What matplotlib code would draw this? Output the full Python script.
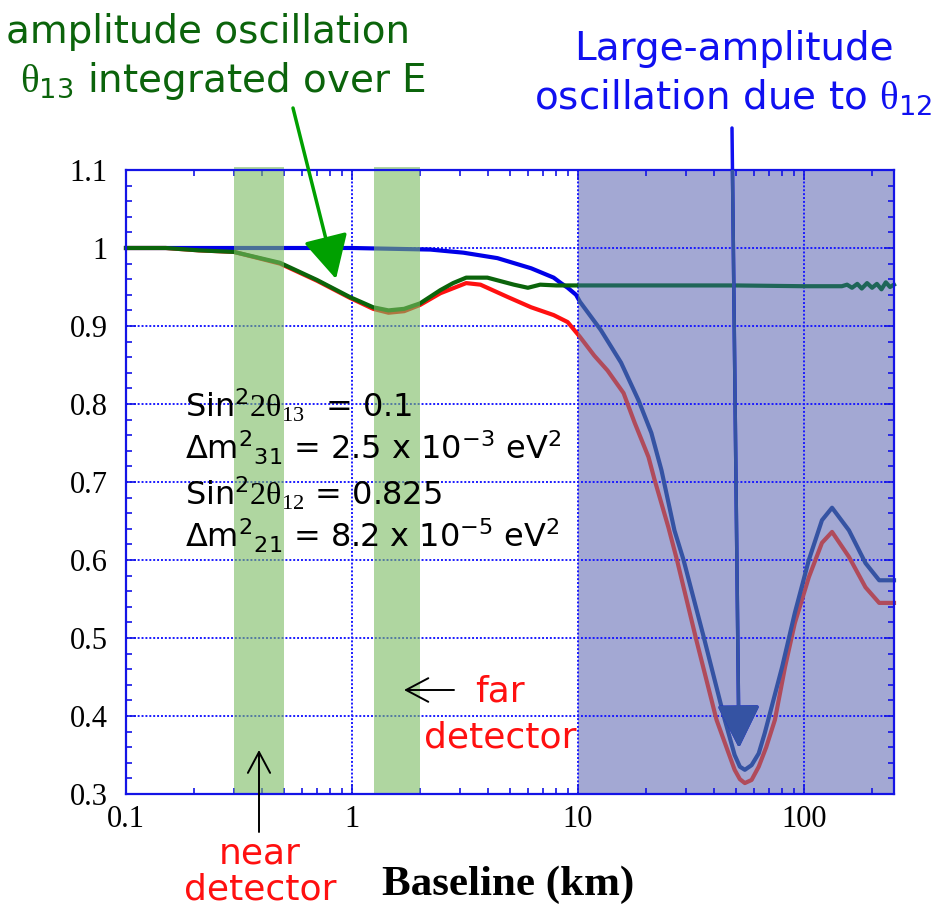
#!/usr/bin/env python3
"""Reactor neutrino survival probability vs baseline, with near/far detector bands."""
import matplotlib

matplotlib.use("Agg")  # headless
import matplotlib.pyplot as plt  # noqa: E402
from matplotlib.patches import FancyArrowPatch, Rectangle  # noqa: E402
from matplotlib.ticker import (FixedLocator, FuncFormatter, LogLocator,  # noqa: E402
                               NullFormatter)

W, H = 947, 909

# theta12 + theta13 oscillation (blue)
blue_x = [0.1, 1.0, 1.5, 2.22, 3.11, 4.4, 6.2, 7.8, 8.4, 9.0, 9.8, 10.2, 12.6, 15.5,
          18.5, 21.1, 23.4, 26.7, 29.3, 36.3, 44.6, 49.3, 52, 54.7, 58.6, 63, 67, 80, 91,
          105, 120, 133, 158, 187, 215, 250]
blue_y = [1.0, 1.0, 0.999, 0.998, 0.994, 0.987, 0.974, 0.962, 0.955, 0.949, 0.940, 0.931,
          0.895, 0.853, 0.805, 0.763, 0.715, 0.638, 0.600, 0.497, 0.395, 0.350, 0.335,
          0.331, 0.337, 0.352, 0.378, 0.463, 0.532, 0.600, 0.651, 0.667, 0.638, 0.596,
          0.574, 0.574]

# full oscillation (red)
red_x = [0.1, 0.15, 0.21, 0.3, 0.48, 0.7, 0.98, 1.24, 1.45, 1.7, 2.0, 2.46, 3.2, 3.7,
         4.9, 6.2, 7.8, 9.0, 10.2, 11.8, 13.5, 15.9, 17.8, 20.5, 21.8, 25.1, 27.4, 33.4,
         41, 46, 49.3, 52, 54.7, 58.6, 63, 68, 74.3, 82.4, 91, 105, 120, 133, 158, 187,
         215, 250]
red_y = [1.0, 1.0, 0.997, 0.995, 0.980, 0.958, 0.936, 0.922, 0.917, 0.919, 0.927, 0.942,
         0.955, 0.953, 0.937, 0.924, 0.914, 0.905, 0.886, 0.862, 0.843, 0.814, 0.776,
         0.732, 0.703, 0.642, 0.600, 0.497, 0.395, 0.355, 0.331, 0.319, 0.314, 0.318,
         0.335, 0.360, 0.395, 0.463, 0.519, 0.578, 0.622, 0.636, 0.604, 0.565, 0.545,
         0.545]

# theta13 only, integrated over E (green)
green_x = [0.1, 0.15, 0.21, 0.3, 0.48, 0.7, 0.98, 1.24, 1.45, 1.7, 2.0, 2.46, 2.8, 3.2,
           3.97, 5.2, 6.0, 6.8, 8.0, 10, 20, 50, 100, 147, 155, 163, 172, 180, 190, 200,
           210, 220, 230, 240, 250]
green_y = [1.0, 1.0, 0.997, 0.995, 0.981, 0.959, 0.937, 0.924, 0.920, 0.922, 0.929, 0.946,
           0.955, 0.962, 0.962, 0.953, 0.949, 0.953, 0.952, 0.952, 0.952, 0.952, 0.951,
           0.951, 0.953, 0.949, 0.954, 0.948, 0.955, 0.949, 0.954, 0.947, 0.956, 0.950,
           0.953]

near_band = (0.3, 0.5)
far_band = (1.25, 2.0)
region = (10, 300)

y_ticks = [0.3, 0.4, 0.5, 0.6, 0.7, 0.8, 0.9, 1.0, 1.1]

AX_BLUE = "#1414e6"
MUTED = {"blue": "#3553a3", "red": "#b04b5b", "green": "#1f6658"}
BRIGHT = {"blue": "#0000e8", "red": "#ff1010", "green": "#0b640b"}


def fxy(px, py):
    """pixel position in the 947x909 picture -> figure fraction"""
    return px / W, 1 - py / H


def main() -> int:
    plt.rcParams.update({
        "font.family": ["DejaVu Sans"],
        "mathtext.fontset": "custom",
        "mathtext.rm": "Liberation Serif",
        "mathtext.it": "Liberation Serif:italic",
        "mathtext.default": "regular",
    })
    fig = plt.figure(figsize=(W / 100, H / 100), dpi=100)
    ax = fig.add_axes([126 / W, 1 - 794 / H, (894 - 126) / W, (794 - 170) / H])
    ax.set_xscale("log")
    ax.set_xlim(0.1, 250)
    ax.set_ylim(0.3, 1.1)

    # shaded long-baseline region sits under the curves
    ax.axvspan(*region, color="#a3a8d3", lw=0, zorder=1)

    left_clip = Rectangle((0.01, 0), region[0] - 0.01, 2, transform=ax.transData)
    right_clip = Rectangle((region[0], 0), 1000, 2, transform=ax.transData)
    for key, xs, ys in (("red", red_x, red_y), ("blue", blue_x, blue_y),
                        ("green", green_x, green_y)):
        ln, = ax.plot(xs, ys, color=BRIGHT[key], lw=3.0, zorder=2,
                      solid_joinstyle="round")
        ln.set_clip_path(left_clip)
        ln2, = ax.plot(xs, ys, color=MUTED[key], lw=3.0, zorder=2,
                       solid_joinstyle="round")
        ln2.set_clip_path(right_clip)

    for lo, hi in (near_band, far_band):
        ax.axvspan(lo, hi, ymin=0, ymax=1.005, color="#7bbb61", alpha=0.6, lw=0,
                   zorder=3, clip_on=False)

    ax.set_axisbelow("line")
    ax.grid(True, which="major", color="#1a1aff", ls=(0, (1, 1)), lw=1.4)

    ax.yaxis.set_major_locator(FixedLocator(y_ticks))
    ax.yaxis.set_minor_locator(FixedLocator([0.3 + 0.02 * i for i in range(41)]))
    ax.yaxis.set_major_formatter(FuncFormatter(lambda v, p: f"{v:g}"))
    ax.xaxis.set_major_locator(LogLocator(base=10))
    ax.xaxis.set_minor_locator(LogLocator(base=10, subs=range(2, 10)))
    ax.xaxis.set_major_formatter(FuncFormatter(lambda v, p: f"{v:g}"))
    ax.xaxis.set_minor_formatter(NullFormatter())
    ax.tick_params(which="both", direction="in", top=True, right=True, color=AX_BLUE,
                   width=1.2, labelsize=22, labelfontfamily="Liberation Serif")
    ax.tick_params(which="major", length=7)
    ax.tick_params(which="minor", length=4)
    ax.tick_params(axis="x", pad=8)
    ax.tick_params(axis="y", pad=13)
    for sp in ax.spines.values():
        sp.set_color(AX_BLUE)
        sp.set_linewidth(1.6)
        sp.set_zorder(4)

    # axis title
    fig.text(*fxy(508, 895), "Baseline (km)", ha="center", va="baseline",
             family="Liberation Serif", weight="bold", size=31)

    # parameters
    params = [r"Sin$^2$$\mathrm{2\theta_{13}}$  = 0.1",
              r"Δm$^2$$_{31}$ = 2.5 x 10$^{-3}$ eV$^2$",
              r"Sin$^2$$\mathrm{2\theta_{12}}$ = 0.825",
              r"Δm$^2$$_{21}$ = 8.2 x 10$^{-5}$ eV$^2$"]
    for txt, yb in zip(params, (417, 460, 505, 548)):
        fig.text(*fxy(185, yb), txt, ha="left", va="baseline", size=23, color="black")

    # green note
    green_c = "#0b640b"
    fig.text(*fxy(6, 43), "amplitude oscillation", ha="left", va="baseline", size=28,
             color=green_c)
    fig.text(*fxy(20, 92), r"$\mathrm{\theta}_{13}$ integrated over E", ha="left",
             va="baseline", size=28, color=green_c)
    fig.add_artist(FancyArrowPatch(
        fxy(293, 108), fxy(336, 279), transform=fig.transFigure,
        arrowstyle="-|>,head_length=27,head_width=14", mutation_scale=1,
        shrinkA=0, shrinkB=0, lw=2.5, color="#00a000", zorder=5))

    # blue note
    blue_c = "#1010f0"
    fig.text(*fxy(734, 60), "Large-amplitude", ha="center", va="baseline", size=28,
             color=blue_c)
    fig.text(*fxy(733, 110), r"oscillation due to $\mathrm{\theta}_{12}$", ha="center",
             va="baseline", size=28, color=blue_c)
    for col, clip in ((blue_c, False), (MUTED["blue"], True)):
        arr = FancyArrowPatch(
            fxy(732, 128), fxy(739, 748), transform=fig.transFigure,
            arrowstyle="-|>,head_length=26.6,head_width=13.3", mutation_scale=1,
            shrinkA=0, shrinkB=0, lw=2.5, color=col, zorder=5)
        fig.add_artist(arr)
        if clip:
            arr.set_clip_path(ax.patch)

    # detector labels
    red_c = "#ff1010"
    fig.text(*fxy(500, 702), "far", ha="center", va="baseline", size=26, color=red_c)
    fig.text(*fxy(500, 748), "detector", ha="center", va="baseline", size=26, color=red_c)
    fig.text(*fxy(260, 863), "near", ha="center", va="baseline", size=26, color=red_c)
    fig.text(*fxy(260, 900), "detector", ha="center", va="baseline", size=26, color=red_c)
    fig.add_artist(FancyArrowPatch(
        fxy(454, 690), fxy(404, 690), transform=fig.transFigure,
        arrowstyle="->,head_length=16,head_width=8.5", mutation_scale=1,
        shrinkA=0, shrinkB=0, lw=1.4, color="black", zorder=5))
    fig.add_artist(FancyArrowPatch(
        fxy(259, 832), fxy(259, 750), transform=fig.transFigure,
        arrowstyle="->,head_length=15,head_width=8", mutation_scale=1,
        shrinkA=0, shrinkB=0, lw=1.4, color="black", zorder=5))

    fig.savefig("out.png", dpi=100)
    plt.close(fig)
    return 0


if __name__ == "__main__":
    raise SystemExit(main())
